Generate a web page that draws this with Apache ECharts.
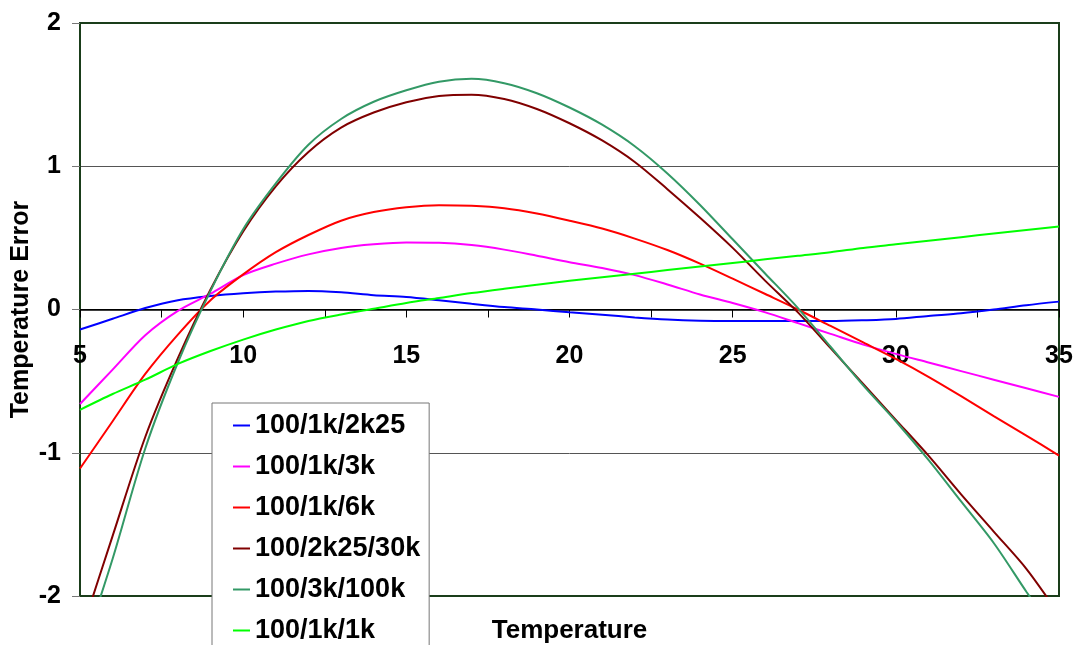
<!DOCTYPE html>
<html>
<head>
<meta charset="utf-8">
<title>Temperature Error</title>
<script src="https://cdn.jsdelivr.net/npm/echarts@6/dist/echarts.min.js"></script>
<style>
  html, body { margin: 0; padding: 0; background: #fff; }
  #chart { width: 1073px; height: 645px; }
</style>
</head>
<body>
<div id="chart"></div>
<script>
(function () {
    var myChart = echarts.init(document.getElementById('chart'));

    // temperature steps
    var temps = [5, 6, 7, 8, 9, 10, 11, 12, 13, 14, 15, 16, 17, 18, 19, 20,
                 21, 22, 23, 24, 25, 26, 27, 28, 29, 30, 31, 32, 33, 34, 35];

    var names = ['100/1k/2k25', '100/1k/3k', '100/1k/6k', '100/2k25/30k', '100/3k/100k', '100/1k/1k'];
    var colors = ['#0000ff', '#ff00ff', '#ff0000', '#800000', '#339966', '#00ff00'];

    // error values, one per temperature
    var err2k25 = [-0.14, -0.065, 0.01, 0.065, 0.094, 0.113, 0.125, 0.13, 0.12, 0.10, 0.088,
                   0.065, 0.04, 0.017, 0, -0.02, -0.036, -0.055, -0.07, -0.078, -0.08,
                   -0.08, -0.08, -0.08, -0.075, -0.066, -0.045, -0.026, 0, 0.03, 0.055];
    var err3k = [-0.66, -0.42, -0.18, -0.01, 0.11, 0.24, 0.32, 0.385, 0.43, 0.455, 0.468,
                 0.466, 0.45, 0.418, 0.375, 0.33, 0.29, 0.24, 0.175, 0.105, 0.045,
                 -0.02, -0.095, -0.17, -0.245, -0.31, -0.37, -0.43, -0.49, -0.55, -0.61];
    var err6k = [-1.11, -0.78, -0.45, -0.175, 0.065, 0.245, 0.40, 0.52, 0.62, 0.68, 0.714,
                 0.728, 0.724, 0.707, 0.67, 0.62, 0.565, 0.495, 0.415, 0.32, 0.215,
                 0.108, 0.0, -0.115, -0.23, -0.345, -0.47, -0.605, -0.745, -0.88, -1.02];
    var err30k = [-2.28, -1.58, -0.89, -0.34, 0.14, 0.545, 0.86, 1.10, 1.27, 1.375, 1.447,
                  1.49, 1.50, 1.47, 1.40, 1.30, 1.18, 1.03, 0.84, 0.64, 0.43,
                  0.20, -0.02, -0.27, -0.52, -0.77, -1.02, -1.29, -1.55, -1.81, -2.13];
    var err100k = [-2.44, -1.74, -0.97, -0.37, 0.13, 0.56, 0.88, 1.15, 1.33, 1.45, 1.53,
                   1.59, 1.61, 1.58, 1.51, 1.41, 1.29, 1.14, 0.95, 0.73, 0.49,
                   0.25, 0.01, -0.26, -0.53, -0.78, -1.05, -1.34, -1.63, -1.97, -2.3];
    var err1k = [-0.70, -0.59, -0.49, -0.38, -0.29, -0.21, -0.14, -0.08, -0.035, 0.005, 0.045,
                 0.08, 0.115, 0.145, 0.173, 0.20, 0.225, 0.25, 0.275, 0.30, 0.325,
                 0.35, 0.375, 0.40, 0.43, 0.455, 0.48, 0.505, 0.53, 0.555, 0.58];

    var allErr = [err2k25, err3k, err6k, err30k, err100k, err1k];

    var font = 'Liberation Sans, Arial, sans-serif';

    var series = [];
    for (var i = 0; i < names.length; i++) {
        var pts = [];
        for (var j = 0; j < temps.length; j++) {
            pts.push([temps[j], allErr[i][j]]);
        }
        series.push({
            name: names[i],
            type: 'line',
            data: pts,
            smooth: 0.3,
            symbol: 'none',
            lineStyle: { color: colors[i], width: 2 },
            itemStyle: { color: colors[i] },
            z: 3
        });
    }

    var option = {
        backgroundColor: '#fff',
        animation: false,
        grid: {
            left: 80, right: 14, top: 23, bottom: 49,
            outerBoundsMode: 'none',
            containLabel: false,
            show: true,
            borderColor: '#1a3d1a',
            borderWidth: 2,
            backgroundColor: 'transparent'
        },
        legend: {
            orient: 'vertical',
            left: 212,
            top: 403,
            height: 400,
            data: names,
            icon: 'rect',
            itemWidth: 17,
            itemHeight: 2,
            itemGap: 14,
            padding: [9, 9, 9, 21],
            backgroundColor: '#fff',
            borderColor: '#777',
            borderWidth: 1,
            borderRadius: 0,
            textStyle: { fontFamily: font, fontWeight: 'bold', fontSize: 27, color: '#000' }
        },
        xAxis: {
            type: 'value',
            min: 5,
            max: 35,
            interval: 2.5,
            name: 'Temperature',
            nameLocation: 'middle',
            nameGap: 22,
            nameMoveOverlap: false,
            nameTextStyle: { fontFamily: font, fontWeight: 'bold', fontSize: 26, color: '#000' },
            axisLine: { onZero: true, lineStyle: { color: '#000', width: 1.5 } },
            axisTick: { show: true, length: 8, lineStyle: { color: '#000' } },
            axisLabel: {
                margin: -252,
                fontFamily: font, fontWeight: 'bold', fontSize: 25, color: '#000',
                showMinLabel: true, showMaxLabel: true,
                formatter: function (v) { return v % 5 === 0 ? String(v) : ''; }
            },
            splitLine: { show: false }
        },
        yAxis: {
            type: 'value',
            min: -2,
            max: 2,
            interval: 1,
            name: 'Temperature Error',
            nameLocation: 'middle',
            nameGap: 46,
            nameMoveOverlap: false,
            nameTextStyle: { fontFamily: font, fontWeight: 'bold', fontSize: 25, color: '#000' },
            axisLine: { show: true, lineStyle: { color: '#1a3d1a', width: 2 } },
            axisTick: { show: true, length: 8, lineStyle: { color: '#777' } },
            axisLabel: {
                margin: 19,
                fontFamily: font, fontWeight: 'bold', fontSize: 25, color: '#000'
            },
            splitLine: {
                show: true,
                lineStyle: { color: ['#1a3d1a', '#555', '#000', '#555', '#1a3d1a'], width: 1 }
            }
        },
        series: series
    };

    myChart.setOption(option);
})();
</script>
</body>
</html>
